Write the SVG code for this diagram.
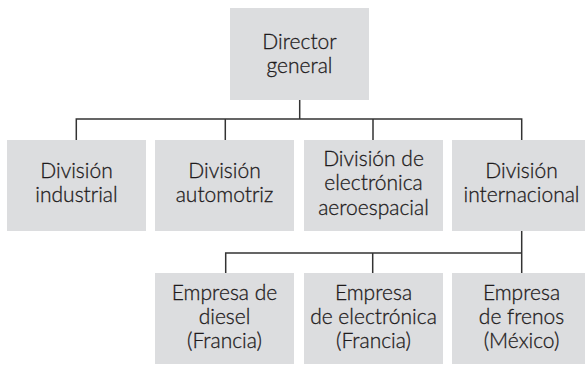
<svg xmlns="http://www.w3.org/2000/svg" width="585" height="365" viewBox="0 0 585 365">
<style>
.box{fill:#dcdddf;}
.t{font-family:Lato,"Open Sans","Liberation Sans",sans-serif;font-weight:300;font-size:21px;fill:#1e1b1c;stroke:#1e1b1c;stroke-width:0.3;text-anchor:middle;}
.c{fill:none;stroke:#333;stroke-width:1.5;}
</style>
<rect width="585" height="365" fill="#fff"/>
<g id="connectors">
<path class="c" d="M299.7 100V119M76.3 140V119H521.7V140M225.3 119V140M373 119V140"/>
<path class="c" d="M521.7 231V253M225.7 273V253H521.7V273M372.7 253V273"/>
</g>
<g id="director">
<rect class="box" x="230" y="8" width="139" height="92"/>
<text class="t" x="299.5" y="49">Director</text>
<text class="t" x="299.5" y="73">general</text>
</g>
<g id="div-industrial">
<rect class="box" x="7" y="140" width="139" height="91"/>
<text class="t" x="76.5" y="178">División</text>
<text class="t" x="76.5" y="202">industrial</text>
</g>
<g id="div-automotriz">
<rect class="box" x="155" y="140" width="139" height="91"/>
<text class="t" x="224.5" y="178">División</text>
<text class="t" x="224.5" y="202">automotriz</text>
</g>
<g id="div-aeroespacial">
<rect class="box" x="304" y="140" width="139" height="91"/>
<text class="t" x="373.5" y="165.5">División de</text>
<text class="t" x="373.5" y="190">electrónica</text>
<text class="t" x="373.5" y="214.5">aeroespacial</text>
</g>
<g id="div-internacional">
<rect class="box" x="452" y="140" width="139" height="91"/>
<text class="t" x="521.5" y="178">División</text>
<text class="t" x="521.5" y="202">internacional</text>
</g>
<g id="emp-diesel">
<rect class="box" x="155" y="273" width="139" height="91"/>
<text class="t" x="224.5" y="299.5">Empresa de</text>
<text class="t" x="224.5" y="323.5">diesel</text>
<text class="t" x="224.5" y="347.5">(Francia)</text>
</g>
<g id="emp-electronica">
<rect class="box" x="304" y="273" width="139" height="91"/>
<text class="t" x="373.5" y="299.5">Empresa</text>
<text class="t" x="373.5" y="323.5">de electrónica</text>
<text class="t" x="373.5" y="347.5">(Francia)</text>
</g>
<g id="emp-frenos">
<rect class="box" x="452" y="273" width="139" height="91"/>
<text class="t" x="521.5" y="299.5">Empresa</text>
<text class="t" x="521.5" y="323.5">de frenos</text>
<text class="t" x="521.5" y="347.5">(México)</text>
</g>
</svg>
